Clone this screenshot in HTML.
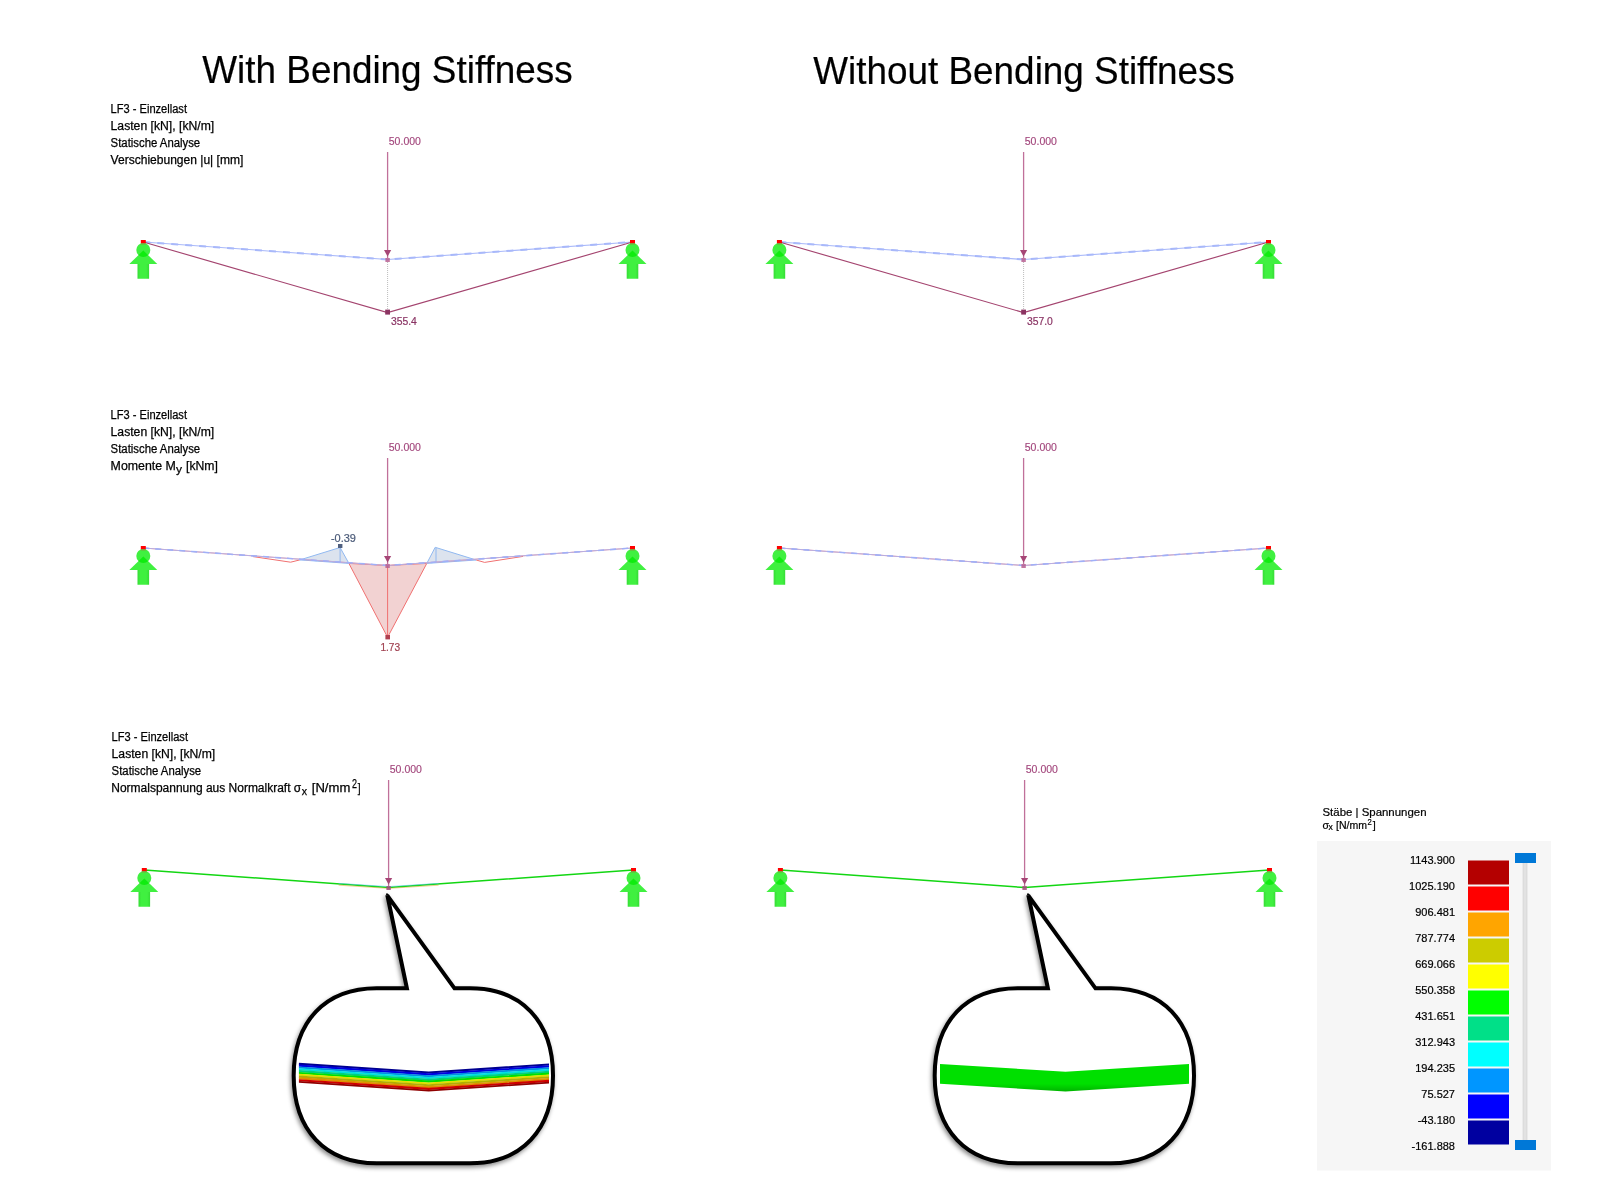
<!DOCTYPE html>
<html><head><meta charset="utf-8">
<style>
html,body{margin:0;padding:0;background:#fff;width:1600px;height:1200px;overflow:hidden}
svg{display:block;will-change:transform}
text{font-family:"Liberation Sans",sans-serif}
.t{font-size:12px;fill:#000;stroke:#000;stroke-width:0.25px}
.ld{font-size:11px;fill:#a2467c;stroke:#a2467c;stroke-width:0.15px}
.h{font-size:38px;fill:#000;stroke:#000;stroke-width:0.2px}
</style></head>
<body>
<svg width="1600" height="1200" viewBox="0 0 1600 1200">
<defs>
  <filter id="sh" x="-10%" y="-10%" width="120%" height="120%"><feDropShadow dx="-1.2" dy="2.4" stdDeviation="2" flood-color="#000" flood-opacity="0.45"/></filter>
  <linearGradient id="gg" x1="0" y1="0" x2="0" y2="1"><stop offset="0" stop-color="#00e000"/><stop offset="0.72" stop-color="#00e000"/><stop offset="1" stop-color="#00b400"/></linearGradient>
  <linearGradient id="stem" x1="0" y1="0" x2="1" y2="0"><stop offset="0" stop-color="#36dc36"/><stop offset="0.25" stop-color="#40f040"/><stop offset="0.75" stop-color="#40f040"/><stop offset="1" stop-color="#36dc36"/></linearGradient>
  <clipPath id="cc"><circle cx="0" cy="10" r="7"/></clipPath>
  <g id="sup">
    <circle cx="0" cy="10" r="7" fill="#40f040"/>
    <path d="M-14,24 L14,24 L0,10.5 Z" fill="#40f040"/>
    <path d="M-14,24 L14,24 L0,10.5 Z" fill="#10ec10" clip-path="url(#cc)"/>
    <rect x="-5.8" y="24" width="11.6" height="14.75" fill="url(#stem)"/>
    <rect x="-2.5" y="0" width="5" height="3" fill="#ff0000"/>
    <rect x="-2.5" y="3" width="5" height="1.5" fill="#80a040"/>
  </g>
  <g id="load">
    <line x1="0" y1="152" x2="0" y2="258" stroke="#c0709a" stroke-width="1.3"/>
    <path d="M-3.6,250 L3.6,250 L0,256.6 Z" fill="#a64676"/>
  </g>
</defs>

<text class="h" x="202.3" y="83" textLength="370.3" lengthAdjust="spacingAndGlyphs">With Bending Stiffness</text>
<text class="h" x="813.3" y="84" textLength="421.5" lengthAdjust="spacingAndGlyphs">Without Bending Stiffness</text>
<g transform="translate(0,0)">
<text class="t" x="110.6" y="113" textLength="76.4" lengthAdjust="spacingAndGlyphs">LF3 - Einzellast</text>
<text class="t" x="110.6" y="130" textLength="103.6" lengthAdjust="spacingAndGlyphs">Lasten [kN], [kN/m]</text>
<text class="t" x="110.6" y="147" textLength="89.6" lengthAdjust="spacingAndGlyphs">Statische Analyse</text>
<text class="t" x="110.6" y="164" textLength="132.7" lengthAdjust="spacingAndGlyphs">Verschiebungen |u| [mm]</text>
</g>
<text class="ld" x="388.75" y="144.8" textLength="32.2" lengthAdjust="spacingAndGlyphs">50.000</text>
<use href="#load" x="387.6" y="0"/>
<polyline points="143.3,242 387.6,259.5 632.5,242" fill="none" stroke="#a8b8fa" stroke-width="1.1"/><polyline points="143.3,242 387.6,259.5 632.5,242" fill="none" stroke="#a8b8fa" stroke-width="2" stroke-dasharray="7,7"/>
<polyline points="143.3,242 387.6,312.6 632.5,242" fill="none" stroke="#a4446f" stroke-width="1.15"/>
<line x1="387.6" y1="262" x2="387.6" y2="309.5" stroke="#bcbcbc" stroke-width="1" stroke-dasharray="1,1"/>
<rect x="385.40000000000003" y="258" width="4.4" height="4" fill="#b86090" opacity="0.85"/>
<rect x="385.20000000000005" y="309.6" width="4.8" height="5" fill="#8c3462"/>
<text class="ld" x="390.90000000000003" y="325" style="fill:#8a3464;stroke:#8a3464;stroke-width:0.2px;" textLength="26" lengthAdjust="spacingAndGlyphs">355.4</text>
<use href="#sup" x="143.3" y="240"/><use href="#sup" x="632.5" y="240"/>
<text class="ld" x="1024.75" y="144.8" textLength="32.2" lengthAdjust="spacingAndGlyphs">50.000</text>
<use href="#load" x="1023.6" y="0"/>
<polyline points="779.4,242 1023.6,259.5 1268.5,242" fill="none" stroke="#a8b8fa" stroke-width="1.1"/><polyline points="779.4,242 1023.6,259.5 1268.5,242" fill="none" stroke="#a8b8fa" stroke-width="2" stroke-dasharray="7,7"/>
<polyline points="779.4,242 1023.6,312.6 1268.5,242" fill="none" stroke="#a4446f" stroke-width="1.15"/>
<line x1="1023.6" y1="262" x2="1023.6" y2="309.5" stroke="#bcbcbc" stroke-width="1" stroke-dasharray="1,1"/>
<rect x="1021.4" y="258" width="4.4" height="4" fill="#b86090" opacity="0.85"/>
<rect x="1021.2" y="309.6" width="4.8" height="5" fill="#8c3462"/>
<text class="ld" x="1026.9" y="325" style="fill:#8a3464;stroke:#8a3464;stroke-width:0.2px;" textLength="26" lengthAdjust="spacingAndGlyphs">357.0</text>
<use href="#sup" x="779.4" y="240"/><use href="#sup" x="1268.5" y="240"/>
<g transform="translate(0,306)">
<text class="t" x="110.6" y="113" textLength="76.4" lengthAdjust="spacingAndGlyphs">LF3 - Einzellast</text>
<text class="t" x="110.6" y="130" textLength="103.6" lengthAdjust="spacingAndGlyphs">Lasten [kN], [kN/m]</text>
<text class="t" x="110.6" y="147" textLength="89.6" lengthAdjust="spacingAndGlyphs">Statische Analyse</text>
<text class="t" x="110.6" y="164" textLength="65.3" lengthAdjust="spacingAndGlyphs">Momente M</text>
<text class="t" x="175.9" y="167" style="font-size:11.5px;" textLength="6" lengthAdjust="spacingAndGlyphs">y</text>
<text class="t" x="186" y="164" textLength="31.9" lengthAdjust="spacingAndGlyphs">[kNm]</text>
</g>
<text class="ld" x="388.75" y="450.8" textLength="32.2" lengthAdjust="spacingAndGlyphs">50.000</text>
<use href="#load" x="387.6" y="306"/>

  <path d="M348.9,563.4 L387.6,565.5 L426.8,563.4 L387.6,637.3 Z" fill="#f2d2d2" stroke="#f07070" stroke-width="1"/>
  <line x1="387.6" y1="565.5" x2="387.6" y2="637" stroke="#f07070" stroke-width="1"/>
  <path d="M299.9,559.9 L340.1,547.5 L348.9,563.4 Z" fill="#dce3ee" stroke="#90b8f0" stroke-width="1"/>
  <line x1="340.1" y1="547.5" x2="340.1" y2="562.6" stroke="#90b8f0" stroke-width="1"/>
  <path d="M426.8,563.4 L435.2,547.3 L476.2,560 Z" fill="#dce3ee" stroke="#90b8f0" stroke-width="1"/>
  <line x1="436" y1="548" x2="436" y2="562.6" stroke="#90b8f0" stroke-width="1"/>
  <polyline points="253,556.6 290.6,562.2 299.9,559.9" fill="none" stroke="#f07070" stroke-width="1"/>
  <polyline points="476.2,560 484.6,562.4 523,556.4" fill="none" stroke="#f07070" stroke-width="1"/>

<polyline points="143.3,548 387.6,565.5 632.5,548" fill="none" stroke="#f08a8a" stroke-width="1"/>
<polyline points="143.3,548 387.6,565.5 632.5,548" fill="none" stroke="#a8b8fa" stroke-width="0.8"/><polyline points="143.3,548 387.6,565.5 632.5,548" fill="none" stroke="#a0b0f8" stroke-width="1.6" stroke-dasharray="6,6"/>
<rect x="385.4" y="564" width="4.4" height="4" fill="#b86090" opacity="0.85"/>
<rect x="338" y="544" width="4.4" height="4" fill="#506080"/>
<rect x="385.4" y="635" width="4.6" height="4.4" fill="#b04050"/>
<text class="t" x="330.9" y="541.9" style="font-size:11px;fill:#4a5a78;stroke:#4a5a78;stroke-width:0.2px;" textLength="25" lengthAdjust="spacingAndGlyphs">-0.39</text>
<text class="t" x="380.4" y="650.9" style="font-size:11px;fill:#a04050;stroke:#a04050;stroke-width:0.2px;" textLength="19.8" lengthAdjust="spacingAndGlyphs">1.73</text>
<use href="#sup" x="143.3" y="546"/><use href="#sup" x="632.5" y="546"/>
<text class="ld" x="1024.75" y="450.8" textLength="32.2" lengthAdjust="spacingAndGlyphs">50.000</text>
<use href="#load" x="1023.6" y="306"/>
<polyline points="779.4,548 1023.6,565.5 1268.5,548" fill="none" stroke="#f08a8a" stroke-width="1"/>
<polyline points="779.4,548 1023.6,565.5 1268.5,548" fill="none" stroke="#a8b8fa" stroke-width="0.8"/><polyline points="779.4,548 1023.6,565.5 1268.5,548" fill="none" stroke="#a0b0f8" stroke-width="1.6" stroke-dasharray="6,6"/>
<rect x="1021.4" y="564" width="4.4" height="4" fill="#b86090" opacity="0.85"/>
<use href="#sup" x="779.4" y="546"/><use href="#sup" x="1268.5" y="546"/>
<g transform="translate(1,628)">
<text class="t" x="110.6" y="113" textLength="76.4" lengthAdjust="spacingAndGlyphs">LF3 - Einzellast</text>
<text class="t" x="110.6" y="130" textLength="103.6" lengthAdjust="spacingAndGlyphs">Lasten [kN], [kN/m]</text>
<text class="t" x="110.6" y="147" textLength="89.6" lengthAdjust="spacingAndGlyphs">Statische Analyse</text>
<text class="t" x="110.25" y="164" textLength="190" lengthAdjust="spacingAndGlyphs">Normalspannung aus Normalkraft σ</text>
<text class="t" x="300.7" y="166.7" style="font-size:11px;" textLength="5.3" lengthAdjust="spacingAndGlyphs">x</text>
<text class="t" x="310.8" y="164" textLength="38.5" lengthAdjust="spacingAndGlyphs">[N/mm</text>
<text class="t" x="351" y="160.4" textLength="5" lengthAdjust="spacingAndGlyphs">2</text>
<text class="t" x="356.7" y="164" textLength="2.8" lengthAdjust="spacingAndGlyphs">]</text>
</g>
<text class="ld" x="389.75" y="772.8" textLength="32.2" lengthAdjust="spacingAndGlyphs">50.000</text>
<use href="#load" x="388.6" y="628"/>
<polyline points="144.3,870 388.6,887.5 633.5,870" fill="none" stroke="#12d612" stroke-width="1.5"/>
<polyline points="338.6,883.4 388.6,886.6 438.6,883.4" fill="none" stroke="#40c0f0" stroke-width="0.7" opacity="0.7"/>
<polyline points="338.6,885.1999999999999 388.6,888.4 438.6,885.1999999999999" fill="none" stroke="#e0a020" stroke-width="0.7" opacity="0.7"/>
<rect x="386.40000000000003" y="886" width="4.4" height="4" fill="#a44c7c" opacity="0.85"/>
<use href="#sup" x="144.3" y="868"/><use href="#sup" x="633.5" y="868"/>
<text class="ld" x="1025.75" y="772.8" textLength="32.2" lengthAdjust="spacingAndGlyphs">50.000</text>
<use href="#load" x="1024.6" y="628"/>
<polyline points="780.4,870 1024.6,887.5 1269.5,870" fill="none" stroke="#12d612" stroke-width="1.5"/>
<rect x="1022.3999999999999" y="886" width="4.4" height="4" fill="#a44c7c" opacity="0.85"/>
<use href="#sup" x="780.4" y="868"/><use href="#sup" x="1269.5" y="868"/>
<g filter="url(#sh)"><path d="M387.4,895.6 L454.5,988.3 L470,988.3 C521.46,988.3 553,1021.55 553,1075.8 C553,1130.05 521.46,1163.3 470,1163.3 L376.7,1163.3 C325.24,1163.3 293.7,1130.05 293.7,1075.8 C293.7,1021.55 325.24,988.3 376.7,988.3 L406.9,988.3 Z" fill="#fff" stroke="#000" stroke-width="4" stroke-linejoin="miter" stroke-miterlimit="4"/><path d="M385.3,896.3 L386.7,893.1 L389.1,894.5 Z" fill="#000"/></g>
<g filter="url(#sh)"><path d="M1028.4,895.6 L1095.5,988.3 L1111,988.3 C1162.46,988.3 1194,1021.55 1194,1075.8 C1194,1130.05 1162.46,1163.3 1111,1163.3 L1017.7,1163.3 C966.24,1163.3 934.7,1130.05 934.7,1075.8 C934.7,1021.55 966.24,988.3 1017.7,988.3 L1047.9,988.3 Z" fill="#fff" stroke="#000" stroke-width="4" stroke-linejoin="miter" stroke-miterlimit="4"/><path d="M1026.3,896.3 L1027.7,893.1 L1030.1,894.5 Z" fill="#000"/></g>
<polygon points="298.9,1062.80 428.7,1071.50 549.0,1063.50 549.0,1065.62 428.7,1073.62 298.9,1064.92" fill="#000090"/>
<polygon points="298.9,1064.62 428.7,1073.32 549.0,1065.32 549.0,1067.44 428.7,1075.44 298.9,1066.74" fill="#0000e0"/>
<polygon points="298.9,1066.44 428.7,1075.14 549.0,1067.14 549.0,1069.25 428.7,1077.25 298.9,1068.55" fill="#0090e0"/>
<polygon points="298.9,1068.25 428.7,1076.95 549.0,1068.95 549.0,1071.07 428.7,1079.07 298.9,1070.37" fill="#00e0e0"/>
<polygon points="298.9,1070.07 428.7,1078.77 549.0,1070.77 549.0,1072.89 428.7,1080.89 298.9,1072.19" fill="#00d080"/>
<polygon points="298.9,1071.89 428.7,1080.59 549.0,1072.59 549.0,1074.71 428.7,1082.71 298.9,1074.01" fill="#00e000"/>
<polygon points="298.9,1073.71 428.7,1082.41 549.0,1074.41 549.0,1076.53 428.7,1084.53 298.9,1075.83" fill="#e0e000"/>
<polygon points="298.9,1075.53 428.7,1084.23 549.0,1076.23 549.0,1078.35 428.7,1086.35 298.9,1077.65" fill="#b0b000"/>
<polygon points="298.9,1077.35 428.7,1086.05 549.0,1078.05 549.0,1080.16 428.7,1088.16 298.9,1079.46" fill="#e09000"/>
<polygon points="298.9,1079.16 428.7,1087.86 549.0,1079.86 549.0,1081.98 428.7,1089.98 298.9,1081.28" fill="#d00000"/>
<polygon points="298.9,1080.98 428.7,1089.68 549.0,1081.68 549.0,1083.50 428.7,1091.50 298.9,1082.80" fill="#900000"/>
<polygon points="940.0,1064.0 1065.5,1071.8 1189.0,1064.0 1189.0,1083.7 1065.5,1091.5 940.0,1083.7" fill="url(#gg)"/>
<rect x="1317" y="841" width="234" height="329.5" fill="#f6f6f6"/>
<text class="t" x="1322.5" y="815.8" style="font-size:11px;fill:#000;stroke:#000;stroke-width:0.2px;" textLength="104" lengthAdjust="spacingAndGlyphs">Stäbe | Spannungen</text>
<text class="t" x="1322.5" y="828.9" style="font-size:10.5px;fill:#000;stroke:#000;stroke-width:0.2px;">σ</text>
<text class="t" x="1328.6" y="830" style="font-size:8.5px;fill:#000;stroke:#000;stroke-width:0.2px;">x</text>
<text class="t" x="1336" y="828.9" style="font-size:10.5px;fill:#000;stroke:#000;stroke-width:0.2px;" textLength="31" lengthAdjust="spacingAndGlyphs">[N/mm</text>
<text class="t" x="1367.6" y="825" style="font-size:8.5px;fill:#000;stroke:#000;stroke-width:0.2px;" textLength="4.3" lengthAdjust="spacingAndGlyphs">2</text>
<text class="t" x="1372.8" y="828.9" style="font-size:10.5px;fill:#000;stroke:#000;stroke-width:0.2px;" textLength="3" lengthAdjust="spacingAndGlyphs">]</text>
<rect x="1468" y="860.5" width="41" height="24" fill="#b40000"/>
<rect x="1468" y="886.5" width="41" height="24" fill="#ff0000"/>
<rect x="1468" y="912.5" width="41" height="24" fill="#ffa500"/>
<rect x="1468" y="938.5" width="41" height="24" fill="#cccc00"/>
<rect x="1468" y="964.5" width="41" height="24" fill="#ffff00"/>
<rect x="1468" y="990.5" width="41" height="24" fill="#00ff00"/>
<rect x="1468" y="1016.5" width="41" height="24" fill="#00e088"/>
<rect x="1468" y="1042.5" width="41" height="24" fill="#00ffff"/>
<rect x="1468" y="1068.5" width="41" height="24" fill="#0096ff"/>
<rect x="1468" y="1094.5" width="41" height="24" fill="#0000ff"/>
<rect x="1468" y="1120.5" width="41" height="24" fill="#0000a0"/>
<text x="1455" y="864" style="font-size:11px;fill:#000;stroke:#000;stroke-width:0.2px" text-anchor="end">1143.900</text>
<text x="1455" y="890" style="font-size:11px;fill:#000;stroke:#000;stroke-width:0.2px" text-anchor="end">1025.190</text>
<text x="1455" y="916" style="font-size:11px;fill:#000;stroke:#000;stroke-width:0.2px" text-anchor="end">906.481</text>
<text x="1455" y="942" style="font-size:11px;fill:#000;stroke:#000;stroke-width:0.2px" text-anchor="end">787.774</text>
<text x="1455" y="968" style="font-size:11px;fill:#000;stroke:#000;stroke-width:0.2px" text-anchor="end">669.066</text>
<text x="1455" y="994" style="font-size:11px;fill:#000;stroke:#000;stroke-width:0.2px" text-anchor="end">550.358</text>
<text x="1455" y="1020" style="font-size:11px;fill:#000;stroke:#000;stroke-width:0.2px" text-anchor="end">431.651</text>
<text x="1455" y="1046" style="font-size:11px;fill:#000;stroke:#000;stroke-width:0.2px" text-anchor="end">312.943</text>
<text x="1455" y="1072" style="font-size:11px;fill:#000;stroke:#000;stroke-width:0.2px" text-anchor="end">194.235</text>
<text x="1455" y="1098" style="font-size:11px;fill:#000;stroke:#000;stroke-width:0.2px" text-anchor="end">75.527</text>
<text x="1455" y="1124" style="font-size:11px;fill:#000;stroke:#000;stroke-width:0.2px" text-anchor="end">-43.180</text>
<text x="1455" y="1150" style="font-size:11px;fill:#000;stroke:#000;stroke-width:0.2px" text-anchor="end">-161.888</text>
<rect x="1523" y="862" width="4" height="280" fill="#e2e2e2" stroke="#d0d0d0" stroke-width="0.6"/>
<rect x="1515" y="853" width="21" height="10" fill="#0078d7"/>
<rect x="1515" y="1140" width="21" height="10" fill="#0078d7"/>
</svg>
</body></html>
